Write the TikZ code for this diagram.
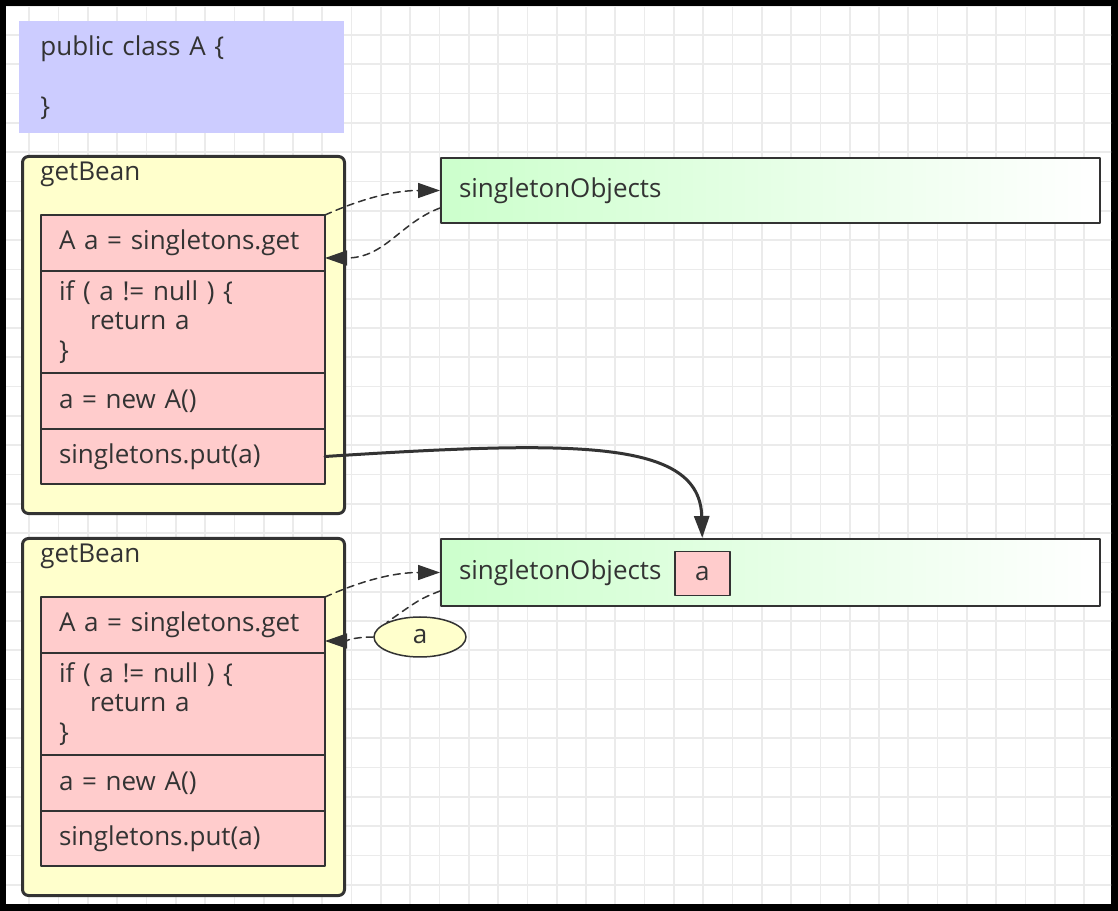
\documentclass[tikz,border=0pt]{standalone}
\usepackage{fontspec}
\setmainfont{Open Sans}
\usepackage{tikz}
\usetikzlibrary{arrows.meta}
\usetikzlibrary{positioning}
\usetikzlibrary{shapes.geometric}
\definecolor{ccccff}{rgb}{0.8,0.8,1.}
\definecolor{ffffcc}{rgb}{1.,1.,0.8}
\definecolor{ffcccc}{rgb}{1.,0.8,0.8}
\definecolor{ccffcc}{rgb}{0.8,1.,0.8}
\definecolor{tttttt}{rgb}{0.2,0.2,0.2}
\definecolor{ebebeb}{rgb}{0.92,0.92,0.92}
\tikzstyle{every node}=[font=\fontsize{14.8}{17}\selectfont,text=tttttt]

\begin{document}
\begin{tikzpicture}[line cap=round,line join=round,>={Triangle[length=4.4mm,width=3mm]},x=0.2mm,y=-0.2mm,
    code/.style={draw=tttttt,line width=0.3mm,fill=ffcccc,minimum width=56.8mm,text width=49.6mm,inner xsep=3.6mm,inner ysep=0pt,align=left,outer sep=0pt},
    bean/.style={draw=tttttt,line width=0.6mm,fill=ffffcc,rounded corners=1.2mm,minimum width=64.4mm,minimum height=71.4mm,anchor=north west,inner sep=0pt},
    store/.style={draw=tttttt,line width=0.4mm,left color=ccffcc,right color=white,minimum width=131.8mm,minimum height=13mm,text width=124.6mm,inner xsep=3.6mm,align=left,anchor=north west},
    flow/.style={draw=tttttt,line width=0.3mm,dash pattern=on 1.4mm off 1mm,->}]
                    \useasboundingbox (0,0) rectangle (1118,911);
                    \fill[black] (0,0) rectangle (1118,911);
                    \fill[white] (6,7) rectangle (1111,904);
                    \begin{scope}
                    \clip (6,7) rectangle (1111,904);
                    \foreach \i in {1,...,38} \draw[ebebeb,line width=0.35mm] (29.3*\i,0) -- (29.3*\i,911);
                    \foreach \j in {0,...,31} \draw[ebebeb,line width=0.35mm] (0,5.7+29.3*\j) -- (1118,5.7+29.3*\j);
                    \end{scope}

                    \node[fill=ccccff,anchor=north west,minimum width=65mm,minimum height=22.4mm,text width=56.6mm,inner xsep=4.2mm,align=left] (cls) at (19,21) {public class A \{\\[17pt]\}};

                    \node[bean] (bean1) at (21,155) {};
                    \node[anchor=west,inner sep=0pt] (title1) at ([shift={(19,19)}]bean1.north west) {getBean};
                    \node[code,anchor=north west,minimum height=11.2mm] (get1) at (41,215) {A a = singletons.get};
                    \node[code,below=0pt of get1,minimum height=20.4mm] (ifb1) {if ( a != null ) \{\\\hspace*{6.2mm}return a\\\}};
                    \node[code,below=0pt of ifb1,minimum height=11.2mm] (new1) {a = new A()};
                    \node[code,below=0pt of new1,minimum height=11mm] (put1) {singletons.put(a)};

                    \node[bean] (bean2) at (21,537) {};
                    \node[anchor=west,inner sep=0pt] (title2) at ([shift={(19,19)}]bean2.north west) {getBean};
                    \node[code,anchor=north west,minimum height=11.2mm] (get2) at (41,597) {A a = singletons.get};
                    \node[code,below=0pt of get2,minimum height=20.4mm] (ifb2) {if ( a != null ) \{\\\hspace*{6.2mm}return a\\\}};
                    \node[code,below=0pt of ifb2,minimum height=11.2mm] (new2) {a = new A()};
                    \node[code,below=0pt of new2,minimum height=11mm] (put2) {singletons.put(a)};

                    \node[store] (store1) at (440,157) {singletonObjects};
                    \node[store,minimum height=13.4mm] (store2) at (440,538) {singletonObjects};
                    \node[draw=tttttt,line width=0.3mm,fill=ffcccc,anchor=north west,minimum width=11mm,minimum height=8.8mm,inner sep=0pt] (aval) at (674,551) {a};

                    \draw[flow] (get1.north east) .. controls +(45,-20) and +(-40,0) .. (store1.west);
                    \draw[flow] ([yshift=-3.5mm]store1.west) .. controls +(-40,15) and +(60,0) .. ([yshift=-3mm]get1.east);

                    \node[ellipse,draw=tttttt,fill=ffffcc,line width=0.3mm,minimum width=18.4mm,minimum height=8mm,inner sep=0pt] (ref) at (420,637) {a};
                    \draw[flow] (get2.north east) .. controls +(45,-20) and +(-40,0) .. (store2.west);
                    \draw[flow,-] ([yshift=-3.7mm]store2.west) .. controls +(-20,8) .. (ref.north west);
                    \draw[flow] (ref.west) .. controls +(-20,0) and +(20,0) .. ([yshift=-3.2mm]get2.east);

                    \draw[draw=tttttt,line width=0.6mm,->] (put1.east) .. controls (580,440) and (700,440) .. (aval.north |- store2.north);
                    \end{tikzpicture}
\end{document}
